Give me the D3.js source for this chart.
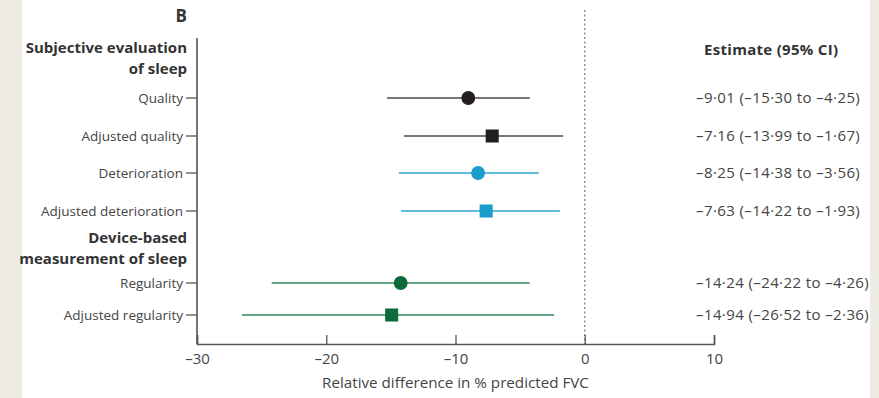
<!DOCTYPE html>
<html>
<head>
<meta charset="utf-8">
<script src="https://cdn.jsdelivr.net/npm/d3@7"></script>
<style>
  body { margin: 0; background: #eeebe5; }
  svg { display: block; }
</style>
</head>
<body>
<div id="chart"></div>
<script>
// forest plot, panel B

var labels = ["Quality", "Adjusted quality", "Deterioration", "Adjusted deterioration", "Regularity", "Adjusted regularity"];
var estimates = [-9.01, -7.16, -8.25, -7.63, -14.24, -14.94];
var lower = [-15.30, -13.99, -14.38, -14.22, -24.22, -26.52];
var upper = [-4.25, -1.67, -3.56, -1.93, -4.26, -2.36];
var shapes = ["circle", "square", "circle", "square", "circle", "square"];
var groups = ["black", "black", "blue", "blue", "green", "green"];
var ciText = ["–9·01 (–15·30 to –4·25)", "–7·16 (–13·99 to –1·67)", "–8·25 (–14·38 to –3·56)",
  "–7·63 (–14·22 to –1·93)", "–14·24 (–24·22 to –4·26)", "–14·94 (–26·52 to –2·36)"];
var xTicks = [-30, -20, -10, 0, 10];

var svgWidth = 879;
var svgHeight = 398;
var font = "'Open Sans', sans-serif";

var markColor = {black: "#231f20", blue: "#1a9ccc", green: "#0b6b3a"};
var lineColor = {black: "#4a4a4a", blue: "#2aa6d2", green: "#2c8a58"};

var svg = d3.select("#chart")
  .append("svg")
  .attr("width", svgWidth)
  .attr("height", svgHeight)
  .style("font-family", font);

// white panel
svg.append("rect")
  .attr("x", 22).attr("y", 0)
  .attr("width", 848).attr("height", svgHeight)
  .attr("fill", "#ffffff");

var xScale = d3.scaleLinear()
  .domain([-30, 10])
  .range([197, 714]);

// row positions (row index -> pixel)
var rowY = [98, 136, 173, 211, 283, 315];
var yScale = d3.scaleOrdinal()
  .domain(labels)
  .range(rowY);

var axisY = 344;

// zero reference line
svg.append("line")
  .attr("x1", xScale(0)).attr("x2", xScale(0))
  .attr("y1", 10).attr("y2", axisY)
  .attr("stroke", "#777")
  .attr("stroke-width", 1.2)
  .attr("stroke-dasharray", "2,2.5");

// x axis
var bottomAxis = d3.axisBottom(xScale)
  .tickValues(xTicks)
  .tickSize(-9)
  .tickPadding(6)
  .tickFormat(function(d) { return d < 0 ? "–" + Math.abs(d) : d; });

var xg = svg.append("g")
  .attr("transform", `translate(0, ${axisY})`)
  .call(bottomAxis);
xg.select(".domain").attr("stroke", "#555").attr("stroke-width", 1.6);
xg.selectAll(".tick line").attr("stroke", "#555").attr("stroke-width", 1.3);
xg.selectAll(".tick text")
  .attr("y", 6)
  .attr("dy", "0.9em")
  .attr("font-family", font)
  .attr("font-size", "15px")
  .attr("fill", "#444");

// y axis line
svg.append("line")
  .attr("x1", 197).attr("x2", 197)
  .attr("y1", 38).attr("y2", axisY)
  .attr("stroke", "#555")
  .attr("stroke-width", 1.6);

// y ticks and row labels
svg.append("g")
  .selectAll("line")
  .data(labels)
  .enter()
  .append("line")
  .attr("x1", 186).attr("x2", 197)
  .attr("y1", function(d) { return yScale(d); })
  .attr("y2", function(d) { return yScale(d); })
  .attr("stroke", "#555")
  .attr("stroke-width", 1.3);

svg.append("g")
  .selectAll("text")
  .data(labels)
  .enter()
  .append("text")
  .attr("x", 183)
  .attr("y", function(d) { return yScale(d); })
  .attr("dy", "0.35em")
  .attr("text-anchor", "end")
  .attr("font-size", "13.5px")
  .attr("fill", "#444")
  .text(function(d) { return d; });

// group headers
var headers = [
  {text: "Subjective evaluation", y: 48},
  {text: "of sleep", y: 69},
  {text: "Device-based", y: 238},
  {text: "measurement of sleep", y: 259}
];
svg.append("g")
  .selectAll("text")
  .data(headers)
  .enter()
  .append("text")
  .attr("x", 187)
  .attr("y", function(d) { return d.y; })
  .attr("dy", "0.35em")
  .attr("text-anchor", "end")
  .attr("font-size", "15px")
  .attr("font-weight", "bold")
  .attr("fill", "#333")
  .text(function(d) { return d.text; });

svg.append("text")
  .attr("x", 187).attr("y", 16)
  .attr("dy", "0.35em")
  .attr("text-anchor", "end")
  .attr("font-size", "17px")
  .attr("font-weight", "bold")
  .attr("fill", "#333")
  .text("B");

// CI lines
svg.append("g")
  .selectAll("line")
  .data(labels)
  .enter()
  .append("line")
  .attr("x1", function(d, i) { return xScale(lower[i]); })
  .attr("x2", function(d, i) { return xScale(upper[i]); })
  .attr("y1", function(d) { return yScale(d); })
  .attr("y2", function(d) { return yScale(d); })
  .attr("stroke", function(d, i) { return lineColor[groups[i]]; })
  .attr("stroke-width", 1.6);

// point estimates
svg.append("g")
  .selectAll("path")
  .data(labels)
  .enter()
  .append("path")
  .attr("transform", function(d, i) { return `translate(${xScale(estimates[i])}, ${yScale(d)})`; })
  .attr("d", function(d, i) {
    var sym = shapes[i] === "circle" ? d3.symbolCircle : d3.symbolSquare;
    var size = shapes[i] === "circle" ? 150 : 170;
    return d3.symbol().type(sym).size(size)();
  })
  .attr("fill", function(d, i) { return markColor[groups[i]]; });

// right-hand estimate column
svg.append("text")
  .attr("x", 704).attr("y", 50)
  .attr("dy", "0.35em")
  .attr("font-size", "15px")
  .attr("letter-spacing", "0.3px")
  .attr("font-weight", "bold")
  .attr("fill", "#333")
  .text("Estimate (95% CI)");

svg.append("g")
  .selectAll("text")
  .data(labels)
  .enter()
  .append("text")
  .attr("x", 696)
  .attr("y", function(d) { return yScale(d); })
  .attr("dy", "0.35em")
  .attr("font-size", "15px")
  .attr("letter-spacing", "0.4px")
  .attr("fill", "#444")
  .text(function(d, i) { return ciText[i]; });

// x axis title
svg.append("text")
  .attr("x", xScale(-10))
  .attr("y", 383)
  .attr("dy", "0.35em")
  .attr("text-anchor", "middle")
  .attr("font-size", "15.2px")
  .attr("fill", "#444")
  .text("Relative difference in % predicted FVC");
</script>
</body>
</html>
